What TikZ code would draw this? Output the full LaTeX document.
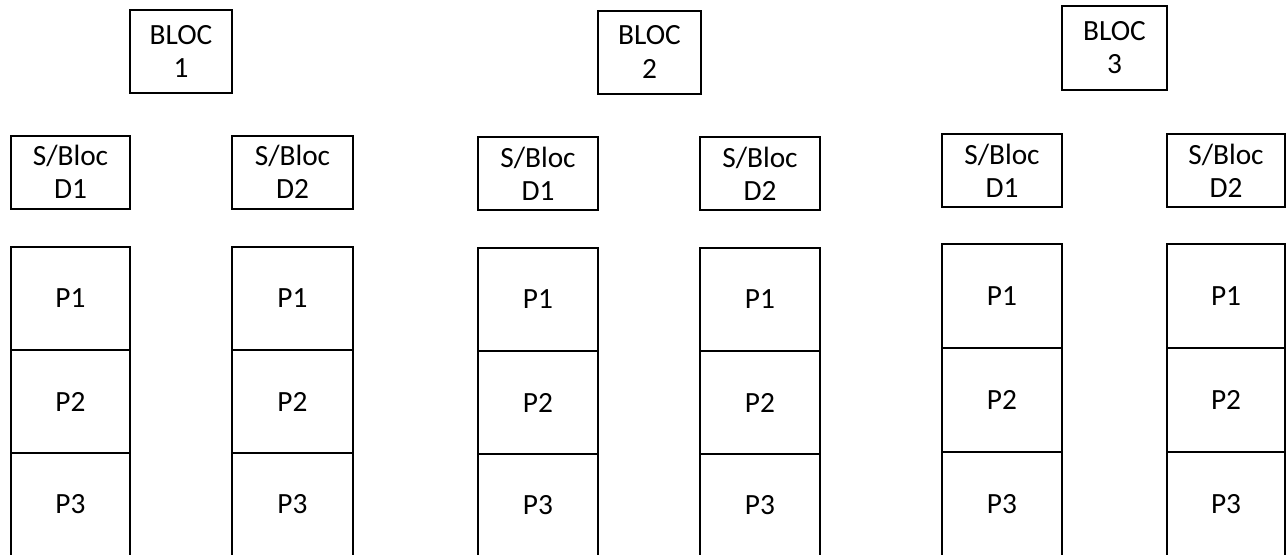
\documentclass[tikz,border=0pt]{standalone}
\usepackage{fontspec}
\setmainfont{Carlito}
\begin{document}
\begin{tikzpicture}[x=0.75pt,y=-0.75pt,
  cell/.style={draw, line width=1.5pt, inner sep=0pt, outer sep=0pt, align=center,
    font=\fontsize{22}{25}\selectfont},
  sz/.style 2 args={minimum width=#1*0.75pt, minimum height=#2*0.75pt}]
\clip (0,0) rectangle (1286,554);
% ---------- Group 1 ----------
\node[cell, sz={102}{83}] (b1) at (181,51.5) {BLOC\\1};
\node[cell, sz={119}{73}] (b1d1) at (70.5,172) {S/Bloc\\D1};
\node[cell, sz={121}{73}] (b1d2) at (292.5,172) {S/Bloc\\D2};
\node[cell, sz={119}{103}] (b1d1p1) at (70.5,298.5) {P1};
\node[cell, sz={119}{103}] (b1d1p2) at (70.5,401.5) {P2};
\node[cell, sz={119}{103}] (b1d1p3) at (70.5,504.5) {P3};
\node[cell, sz={121}{103}] (b1d2p1) at (292.5,298.5) {P1};
\node[cell, sz={121}{103}] (b1d2p2) at (292.5,401.5) {P2};
\node[cell, sz={121}{103}] (b1d2p3) at (292.5,504.5) {P3};
% ---------- Group 2 ----------
\node[cell, sz={103}{83}] (b2) at (649.5,52) {BLOC\\2};
\node[cell, sz={120}{73}] (b2d1) at (538,173.5) {S/Bloc\\D1};
\node[cell, sz={120}{73}] (b2d2) at (760,173.5) {S/Bloc\\D2};
\node[cell, sz={120}{103}] (b2d1p1) at (538,299.5) {P1};
\node[cell, sz={120}{103}] (b2d1p2) at (538,402.5) {P2};
\node[cell, sz={120}{103}] (b2d1p3) at (538,505.5) {P3};
\node[cell, sz={120}{103}] (b2d2p1) at (760,299.5) {P1};
\node[cell, sz={120}{103}] (b2d2p2) at (760,402.5) {P2};
\node[cell, sz={120}{103}] (b2d2p3) at (760,505.5) {P3};
% ---------- Group 3 ----------
\node[cell, sz={105}{84}] (b3) at (1114.5,47.5) {BLOC\\3};
\node[cell, sz={120}{73}] (b3d1) at (1002,170.5) {S/Bloc\\D1};
\node[cell, sz={118}{73}] (b3d2) at (1226,170.5) {S/Bloc\\D2};
\node[cell, sz={120}{104}] (b3d1p1) at (1002,296) {P1};
\node[cell, sz={120}{104}] (b3d1p2) at (1002,400) {P2};
\node[cell, sz={120}{104}] (b3d1p3) at (1002,504) {P3};
\node[cell, sz={118}{104}] (b3d2p1) at (1226,296) {P1};
\node[cell, sz={118}{104}] (b3d2p2) at (1226,400) {P2};
\node[cell, sz={118}{104}] (b3d2p3) at (1226,504) {P3};
\end{tikzpicture}
\end{document}
